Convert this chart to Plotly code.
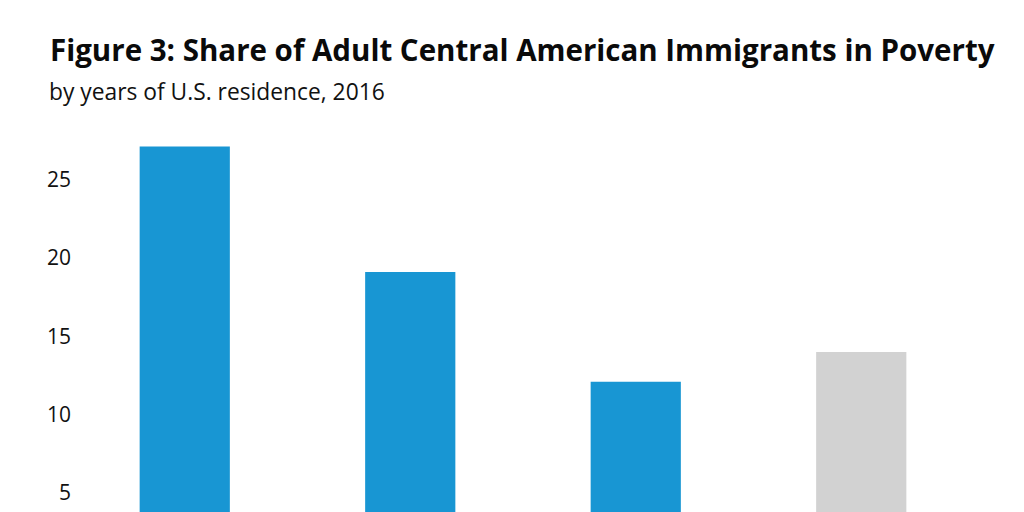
import plotly.graph_objects as go

# Share of adults in poverty (%), by years of U.S. residence
categories = ["Less than 5 years", "5 to 15 years", "More than 15 years", "All U.S. adults"]
poverty_share = [27.1, 19.1, 12.1, 14.0]
bar_colors = ["#1896d3", "#1896d3", "#1896d3", "#d2d2d2"]
y_ticks = [5, 10, 15, 20, 25]

FONT = "Open Sans, Noto Sans, sans-serif"

fig = go.Figure()

fig.add_trace(
    go.Bar(
        x=categories,
        y=poverty_share,
        marker=dict(color=bar_colors, line=dict(width=0)),
        width=0.4,
        hovertemplate="%{x}: %{y}%<extra></extra>",
    )
)

fig.update_layout(
    title=dict(
        text="<b>Figure 3: Share of Adult Central American Immigrants in Poverty</b>",
        font=dict(family=FONT, size=29.5, color="#0a0a0a"),
        x=42 / 1024,
        xanchor="left",
        xref="container",
        y=1 - 43 / 512,
        yanchor="middle",
        yref="container",
    ),
    annotations=[
        dict(
            text="by years of U.S. residence, 2016",
            xref="paper",
            yref="paper",
            x=-25 / 902,
            xanchor="left",
            y=1 + 29 / 400,
            yanchor="middle",
            showarrow=False,
            font=dict(family=FONT, size=22.8, color="#111111"),
        )
    ],
    font=dict(family=FONT, size=21, color="#111111"),
    paper_bgcolor="white",
    plot_bgcolor="white",
    width=1024,
    height=512,
    autosize=False,
    margin=dict(l=64, r=58, t=112, b=0, pad=0),
    showlegend=False,
    bargap=0.6,
)

fig.update_xaxes(
    showticklabels=False,
    showgrid=False,
    showline=False,
    zeroline=False,
    ticks="",
    automargin=False,
)

fig.update_yaxes(
    range=[3.28, 28.79],
    tickmode="array",
    tickvals=y_ticks,
    ticks="",
    showgrid=False,
    showline=False,
    zeroline=False,
    tickfont=dict(family=FONT, size=21, color="#111111"),
    automargin=False,
)

fig.write_html("out.html")
